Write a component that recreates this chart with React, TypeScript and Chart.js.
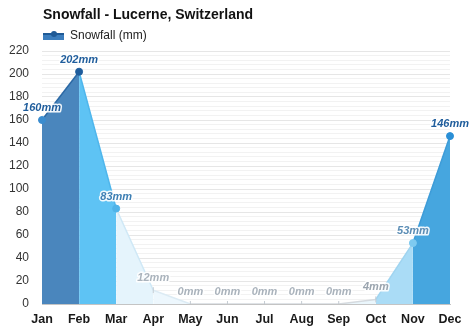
import React, { useEffect, useRef } from "react";
import { Chart, registerables } from "chart.js";

Chart.register(...registerables);

const months = ["Jan", "Feb", "Mar", "Apr", "May", "Jun", "Jul", "Aug", "Sep", "Oct", "Nov", "Dec"];
const snowfall = [160, 202, 83, 12, 0, 0, 0, 0, 0, 4, 53, 146];
const valueLabels = snowfall.map((v) => v + "mm");
const chartTitle = "Snowfall - Lucerne, Switzerland";
const seriesName = "Snowfall (mm)";

// segment i joins month i and month i+1
const segmentFill = ["#4a86bd", "#5ec3f4", "#e5f4fc", "#edf7fd", "rgba(0,0,0,0)", "rgba(0,0,0,0)", "rgba(0,0,0,0)", "rgba(0,0,0,0)", "#eaf6fc", "#aadcf6", "#46a6df"];
const segmentLine = ["#2c69a5", "#4fb6ec", "#cfe8f6", "#dcebf4", "#d5dadf", "#d5dadf", "#d5dadf", "#d5dadf", "#d5dadf", "#9fd4f0", "#3d9cd8"];
const pointColors = ["#3a8ccf", "#1e5c9c", "#4fb3e8", "#c4cbd2", "#c4cbd2", "#c4cbd2", "#c4cbd2", "#c4cbd2", "#c4cbd2", "#c4cbd2", "#7ecaf0", "#2a8fd6"];
const labelColors = ["#1f5d9c", "#1f5d9c", "#3d7fb4", "#aab3bc", "#aab3bc", "#aab3bc", "#aab3bc", "#aab3bc", "#aab3bc", "#9aa4ae", "#5b8db5", "#1f5d9c"];

const FONT = '"Liberation Sans", Arial, sans-serif';

const labelPlugin = {
  id: "valueLabels",
  afterDatasetsDraw(chart: any) {
    const ctx = chart.ctx;
    const meta = chart.getDatasetMeta(0);
    ctx.save();
    ctx.font = "bold italic 11px " + FONT;
    ctx.textAlign = "center";
    ctx.textBaseline = "middle";
    ctx.lineJoin = "round";
    meta.data.forEach((pt: any, i: number) => {
      const x = pt.x;
      const y = pt.y - 12;
      ctx.lineWidth = 3;
      ctx.strokeStyle = "rgba(255,255,255,0.9)";
      ctx.strokeText(valueLabels[i], x, y);
      ctx.fillStyle = labelColors[i];
      ctx.fillText(valueLabels[i], x, y);
    });
    ctx.restore();
  },
};

const headerPlugin = {
  id: "header",
  afterDraw(chart: any) {
    const ctx = chart.ctx;
    ctx.save();
    ctx.fillStyle = "#111111";
    ctx.font = "bold 14px " + FONT;
    ctx.textAlign = "left";
    ctx.textBaseline = "middle";
    ctx.fillText(chartTitle, 43, 15);
    // legend
    ctx.fillStyle = "#3b7dbd";
    ctx.fillRect(43, 33, 21, 7);
    ctx.strokeStyle = "#1f5a96";
    ctx.lineWidth = 2;
    ctx.beginPath();
    ctx.moveTo(43, 34);
    ctx.lineTo(64, 34);
    ctx.stroke();
    ctx.fillStyle = "#1f5a96";
    ctx.beginPath();
    ctx.arc(54, 34, 3, 0, Math.PI * 2);
    ctx.fill();
    ctx.fillStyle = "#222222";
    ctx.font = "12px " + FONT;
    ctx.fillText(seriesName, 70, 36);
    ctx.restore();
  },
};

export default function App() {
  const ref = useRef<HTMLCanvasElement>(null);
  useEffect(() => {
    if (!ref.current) return;
    const chart = new Chart(ref.current, {
      type: "line",
      data: {
        labels: months,
        datasets: [
          {
            label: seriesName,
            data: snowfall,
            fill: "origin",
            tension: 0,
            borderWidth: 1.5,
            backgroundColor: "#4a86bd",
            borderColor: "#2c69a5",
            segment: {
              backgroundColor: (c: any) => segmentFill[c.p0DataIndex],
              borderColor: (c: any) => segmentLine[c.p0DataIndex],
            },
            pointStyle: snowfall.map((v) => (v >= 50 ? "circle" : "line")) as any,
            rotation: snowfall.map((v) => (v >= 50 ? 0 : 90)),
            pointRadius: snowfall.map((v) => (v >= 50 ? 3.5 : 3)),
            pointBackgroundColor: pointColors,
            pointBorderColor: pointColors,
            pointBorderWidth: 1,
          },
        ],
      },
      options: {
        responsive: false,
        animation: false,
        layout: { padding: { top: 51, right: 24, left: 0, bottom: 0 } },
        plugins: {
          legend: { display: false },
          title: { display: false },
          tooltip: { enabled: false },
        },
        scales: {
          x: {
            offset: false,
            grid: { display: false, drawTicks: false },
            border: { display: true, color: "#c4c4c4", width: 1 },
            ticks: {
              font: { family: FONT, size: 12.5, weight: "bold" },
              color: "#1a1a1a",
              padding: 8,
              maxRotation: 0,
              autoSkip: false,
            },
            afterFit: (s: any) => {
              s.height = 27;
            },
          },
          y: {
            min: 0,
            max: 220,
            border: { display: false },
            grid: {
              drawTicks: false,
              color: (c: any) => (c.tick && c.tick.value % 20 === 0 ? "#e6e6e6" : "#f2f2f2"),
            },
            ticks: {
              stepSize: 4,
              autoSkip: false,
              padding: 13,
              font: { family: FONT, size: 12 },
              color: "#333333",
              callback: (v: any) => (v % 20 === 0 ? String(v) : ""),
            },
            afterFit: (s: any) => {
              s.width = 42;
            },
          },
        },
      },
      plugins: [labelPlugin, headerPlugin],
    });
    return () => chart.destroy();
  }, []);
  return (
    <div style={{ position: "absolute", left: 0, top: 0, width: 474, height: 331, background: "#fff" }}>
      <canvas ref={ref} width={474} height={331} style={{ display: "block" }} />
    </div>
  );
}
